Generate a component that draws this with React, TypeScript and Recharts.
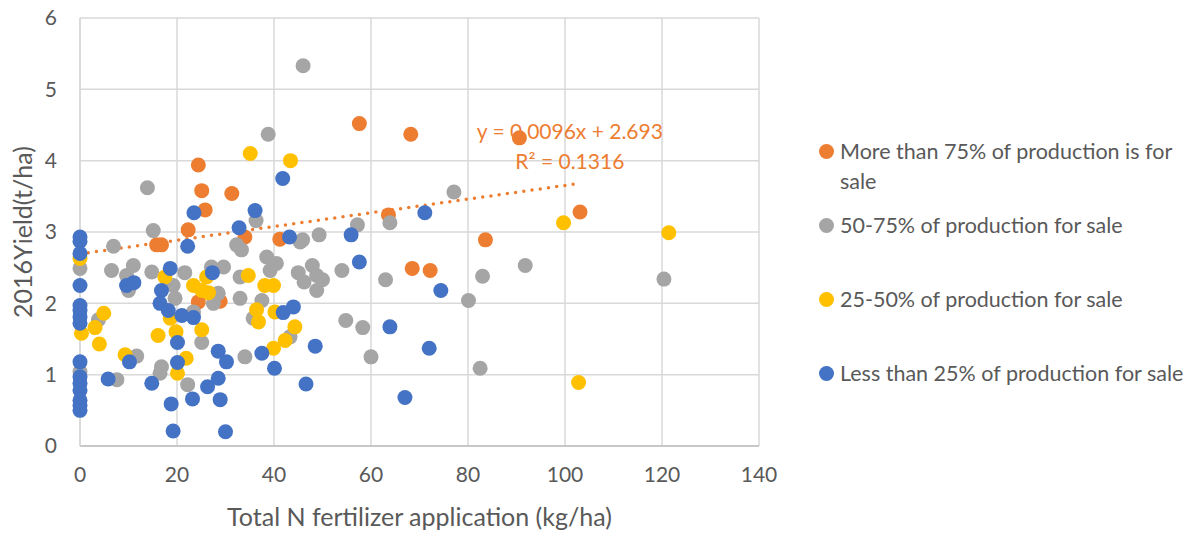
import {
  ScatterChart,
  Scatter,
  XAxis,
  YAxis,
  CartesianGrid,
  ReferenceLine,
  ReferenceDot,
  Legend,
} from 'recharts'

// [total N applied (kg/ha), 2016 yield (t/ha)]
const over75: [number, number][] = [
  [24.4, 3.94], [25.1, 3.58], [31.3, 3.54], [25.8, 3.31], [22.3, 3.03], [34.0, 2.93],
  [41.2, 2.9], [15.8, 2.82], [16.8, 2.82], [24.4, 2.02], [28.9, 2.03], [57.6, 4.52],
  [68.2, 4.37], [63.6, 3.24], [83.6, 2.89], [90.6, 4.32], [103.1, 3.28], [68.5, 2.49],
  [72.2, 2.46],
]

const from50to75: [number, number][] = [
  [46.0, 5.33], [38.8, 4.37], [13.9, 3.62], [36.3, 3.16], [15.1, 3.02], [6.9, 2.8],
  [32.3, 2.82], [33.3, 2.75], [45.4, 2.86], [6.5, 2.46], [11.0, 2.53], [9.6, 2.39],
  [10.0, 2.18], [14.8, 2.44], [19.2, 2.25], [19.6, 2.07], [23.4, 1.88], [21.6, 2.43],
  [27.1, 2.51], [29.6, 2.51], [28.5, 2.14], [27.5, 2.0], [33.0, 2.37], [38.5, 2.65],
  [40.5, 2.56], [39.2, 2.46], [45.0, 2.43], [33.0, 2.07], [37.5, 2.04], [35.7, 1.79],
  [43.3, 1.53], [34.0, 1.25], [22.2, 0.86], [25.1, 1.45], [16.8, 1.11], [16.5, 1.02],
  [7.6, 0.93], [11.7, 1.26], [3.8, 1.77], [0, 2.49], [0, 1.04], [77.1, 3.56],
  [63.9, 3.13], [57.2, 3.1], [49.3, 2.96], [45.9, 2.89], [91.8, 2.53], [47.9, 2.53],
  [46.2, 2.3], [48.8, 2.39], [50.0, 2.33], [48.8, 2.18], [54.0, 2.46], [63.0, 2.33],
  [83.0, 2.38], [80.1, 2.04], [54.8, 1.76], [58.3, 1.66], [60.0, 1.25], [82.5, 1.09],
  [120.4, 2.34],
]

const from25to50: [number, number][] = [
  [35.1, 4.1], [43.4, 4.0], [0, 2.63], [0.3, 1.58], [17.5, 2.37], [18.6, 1.79],
  [26.1, 2.37], [23.4, 2.25], [25.1, 2.18], [26.5, 2.15], [34.7, 2.39], [38.1, 2.25],
  [39.9, 2.25], [36.4, 1.91], [36.8, 1.74], [40.2, 1.88], [44.3, 1.67], [42.3, 1.48],
  [39.9, 1.37], [20.1, 1.02], [21.9, 1.23], [19.8, 1.6], [25.1, 1.63], [16.1, 1.55],
  [9.3, 1.28], [4.0, 1.43], [3.1, 1.66], [4.9, 1.86], [99.7, 3.13], [121.4, 2.99],
  [102.8, 0.89],
]

const under25: [number, number][] = [
  [41.8, 3.75], [23.5, 3.27], [36.1, 3.3], [32.8, 3.06], [0, 2.93], [43.2, 2.93],
  [0, 2.87], [22.2, 2.8], [0, 2.7], [0, 2.25], [0, 1.97], [0, 1.9], [0, 1.81],
  [0, 1.72], [0, 1.18], [0, 0.97], [0, 0.88], [0, 0.78], [0, 0.64], [0, 0.57],
  [0, 0.5], [9.6, 2.25], [11.1, 2.29], [18.6, 2.49], [16.8, 2.18], [16.5, 2.0],
  [18.2, 1.9], [21.0, 1.83], [23.4, 1.8], [27.3, 2.43], [41.9, 1.87], [44.0, 1.95],
  [46.6, 0.87], [37.5, 1.3], [28.5, 1.33], [30.2, 1.18], [28.5, 0.95], [26.3, 0.83],
  [28.9, 0.65], [30.0, 0.2], [23.2, 0.66], [19.2, 0.21], [18.8, 0.59], [20.1, 1.17],
  [20.1, 1.45], [14.8, 0.88], [5.8, 0.94], [10.2, 1.18], [40.1, 1.09], [55.9, 2.96],
  [71.1, 3.27], [57.6, 2.58], [74.4, 2.18], [63.9, 1.67], [48.5, 1.4], [72.0, 1.37],
  [67.0, 0.68],
]

const seriesNames = [
  'More than 75% of production is for sale',
  '50-75% of production for sale',
  '25-50% of production for sale',
  'Less than 25% of production for sale',
]
const seriesColors = ['#ED7D31', '#A5A5A5', '#FFC000', '#4472C4']
const seriesData = [over75, from50to75, from25to50, under25]

const xTicks = [0, 20, 40, 60, 80, 100, 120, 140]
const yTicks = [0, 1, 2, 3, 4, 5, 6]

// linear trendline shown on the chart (first series)
const trendSlope = 0.0096
const trendIntercept = 2.693
const trendEndX = 103.1
const trendText = 'y = 0.0096x + 2.693'
const r2Text = 'R² = 0.1316'

const FONT = 'Lato, "Open Sans", sans-serif'
const TEXT = '#595959'
const legendTops = [136, 210, 284, 358]

const toPoints = (rows: [number, number][]) => rows.map(([x, y]) => ({ x, y }))

const dot = (color: string) => (props: any) =>
  <circle cx={props.cx} cy={props.cy} r={7.5} fill={color} />

function ChartLegend() {
  return (
    <div style={{ position: 'absolute', left: 0, top: 0, fontFamily: FONT }}>
      {seriesNames.map((name, i) => (
        <div
          key={name}
          style={{
            position: 'absolute',
            left: 819,
            top: legendTops[i],
            width: 378,
            display: 'flex',
            alignItems: 'flex-start',
            fontSize: 21.5,
            lineHeight: '30px',
            color: TEXT,
          }}
        >
          <span
            style={{
              width: 15,
              height: 15,
              borderRadius: '50%',
              background: seriesColors[i],
              marginTop: 8,
              marginRight: 6,
              flex: '0 0 auto',
            }}
          />
          <span>{name}</span>
        </div>
      ))}
    </div>
  )
}

export default function App() {
  return (
    <div style={{ position: 'absolute', left: 0, top: 0, width: 1199, height: 533, background: '#fff' }}>
      <ScatterChart
        width={1199}
        height={533}
        margin={{ top: 18, right: 440, bottom: 0, left: 0 }}
        style={{ fontFamily: FONT }}
      >
        <CartesianGrid stroke="#D9D9D9" strokeWidth={1.5} />
        <XAxis
          type="number"
          dataKey="x"
          domain={[0, 140]}
          ticks={xTicks}
          height={87}
          tickLine={false}
          tickSize={0}
          tickMargin={21}
          axisLine={{ stroke: '#BFBFBF', strokeWidth: 1.5 }}
          tick={{ fill: TEXT, fontSize: 21 }}
          label={{
            value: 'Total N fertilizer application (kg/ha)',
            position: 'insideBottom',
            offset: 7,
            fill: TEXT,
            fontSize: 25,
          }}
        />
        <YAxis
          type="number"
          dataKey="y"
          domain={[0, 6]}
          ticks={yTicks}
          width={80}
          tickLine={false}
          tickSize={0}
          tickMargin={23}
          axisLine={{ stroke: '#D9D9D9', strokeWidth: 1.5 }}
          tick={{ fill: TEXT, fontSize: 21 }}
          label={{
            content: ({ viewBox }: any) => (
              <text
                x={22}
                y={viewBox.y + viewBox.height / 2}
                transform={`rotate(-90 22 ${viewBox.y + viewBox.height / 2})`}
                textAnchor="middle"
                dominantBaseline="central"
                fill={TEXT}
                fontSize={25}
              >
                2016Yield(t/ha)
              </text>
            ),
          }}
        />
        {seriesData.map((rows, i) => (
          <Scatter
            key={seriesNames[i]}
            name={seriesNames[i]}
            data={toPoints(rows)}
            fill={seriesColors[i]}
            shape={dot(seriesColors[i])}
            isAnimationActive={false}
          />
        ))}
        <ReferenceLine
          segment={[
            { x: 0, y: trendIntercept },
            { x: trendEndX, y: trendIntercept + trendSlope * trendEndX },
          ]}
          stroke="#ED7D31"
          strokeWidth={3.5}
          strokeDasharray="0 8.3"
          strokeLinecap="round"
        />
        <ReferenceDot
          x={101}
          y={4.41}
          r={0}
          fill="none"
          stroke="none"
          label={{ value: trendText, position: 'center', fill: '#ED7D31', fontSize: 21 }}
        />
        <ReferenceDot
          x={101}
          y={3.99}
          r={0}
          fill="none"
          stroke="none"
          label={{ value: r2Text, position: 'center', fill: '#ED7D31', fontSize: 21 }}
        />
        <Legend content={() => null} />
      </ScatterChart>
      <ChartLegend />
    </div>
  )
}
